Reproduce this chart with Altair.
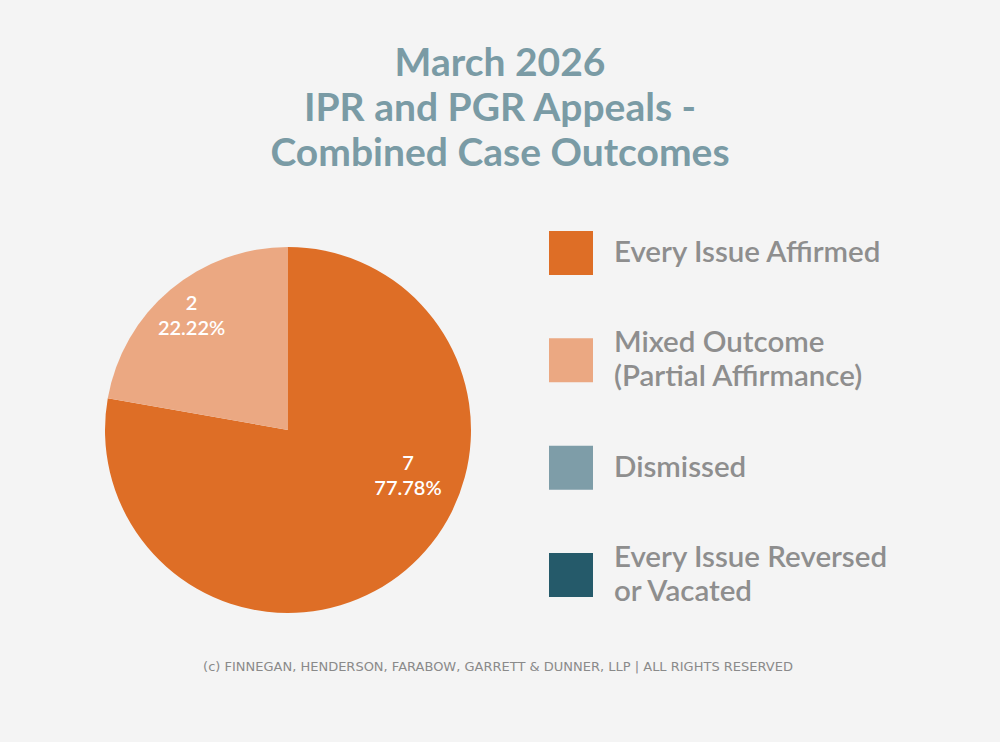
import altair as alt
import pandas as pd

categories = ["Every Issue Affirmed", "Mixed Outcome\n(Partial Affirmance)", "Dismissed",
              "Every Issue Reversed\nor Vacated"]
counts = [7, 2, 0, 0]
percents = ["77.78%", "22.22%", "0%", "0%"]
colors = ["#DE6E26", "#EBA882", "#7E9DA8", "#255A6A"]
title_lines = "March 2026\nIPR and PGR Appeals -\nCombined Case Outcomes"
footer = "(c) FINNEGAN, HENDERSON, FARABOW, GARRETT & DUNNER, LLP | ALL RIGHTS RESERVED"

df = pd.DataFrame({
    "cat": categories,
    "count": counts,
    "pct": percents,
    "order": list(range(len(categories))),
})
df["label"] = df["count"].astype(str) + "\n" + df["pct"]
total = int(sum(counts))

FONT = "Lato"
color_scale = alt.Scale(domain=categories, range=colors)
theta_scale = alt.Scale(domain=[0, total])
CX, CY, R = 288, 430, 183

base = alt.Chart(df)

pie = base.mark_arc(outerRadius=R, stroke=None).encode(
    theta=alt.Theta("count:Q", stack=True, scale=theta_scale),
    color=alt.Color("cat:N", scale=color_scale, legend=None),
    order=alt.Order("order:Q"),
    x=alt.value(CX), y=alt.value(CY),
)

lbl_base = base.transform_window(
    cum="sum(count)", sort=[alt.SortField("order")]
).transform_calculate(mid="datum.cum - datum.count / 2")

lbl_small = lbl_base.transform_filter("datum.order == 1").mark_text(
    radius=150, font=FONT, fontSize=20, fontWeight=600, color="white",
    lineBreak="\n", lineHeight=25, baseline="middle", align="center", dy=-11,
).encode(
    theta=alt.Theta("mid:Q", scale=theta_scale),
    text="label:N",
    x=alt.value(CX), y=alt.value(CY),
)

lbl_big = lbl_base.transform_filter("datum.order == 0").mark_text(
    radius=0, font=FONT, fontSize=20, fontWeight=600, color="white",
    lineBreak="\n", lineHeight=25, baseline="middle", align="center",
    dx=120, dy=34,
).encode(
    text="label:N",
    x=alt.value(CX), y=alt.value(CY),
)

leg_y = alt.Y("cat:N", scale=alt.Scale(domain=categories, range=[253, 575], padding=0),
              axis=None)

leg_sq = base.mark_square(size=44 * 44, opacity=1).encode(
    y=leg_y,
    x=alt.value(571),
    color=alt.Color("cat:N", scale=color_scale, legend=None),
)

txt_kw = dict(align="left", baseline="middle", font=FONT, fontSize=29.5, fontWeight=600,
              color="#8E8E8E", lineBreak="\n", lineHeight=34)

leg_txt1 = base.transform_filter("indexof(datum.cat, '\\n') < 0").mark_text(**txt_kw).encode(
    y=leg_y, x=alt.value(614), text="cat:N",
)
leg_txt2 = base.transform_filter("indexof(datum.cat, '\\n') >= 0").mark_text(
    dy=-17, **txt_kw).encode(
    y=leg_y, x=alt.value(614), text="cat:N",
)

title = alt.Chart(pd.DataFrame({"t": [title_lines]})).mark_text(
    align="center", baseline="top", font=FONT, fontSize=39, fontWeight="bold",
    color="#7A9BA5", lineBreak="\n", lineHeight=45,
).encode(text="t:N", x=alt.value(500), y=alt.value(45))

foot = alt.Chart(pd.DataFrame({"t": [footer]})).mark_text(
    align="center", baseline="middle", font="DejaVu Sans", fontSize=13,
    color="#8A8A8A",
).encode(text="t:N", x=alt.value(498), y=alt.value(667))

chart = alt.layer(pie, lbl_small, lbl_big, leg_sq, leg_txt1, leg_txt2, title, foot).properties(
    width=1000, height=742, background="#F4F4F4", padding=0,
    autosize=alt.AutoSizeParams(type="none"),
).configure_view(stroke=None)

chart.save("out.html", embed_options={"renderer": "svg", "actions": False})
